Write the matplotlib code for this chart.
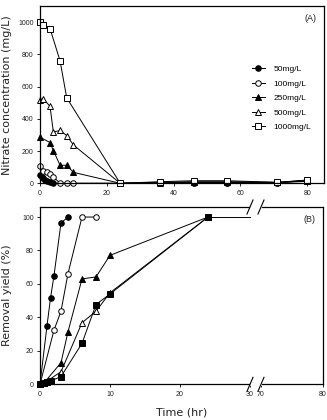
import numpy as np
import matplotlib
matplotlib.use('Agg')
import matplotlib.pyplot as plt

plt.rcParams['font.family'] = ['Liberation Sans', 'DejaVu Sans']

# ---------------- data ----------------
labels = ['50mg/L', '100mg/L', '250mg/L', '500mg/L', '1000mg/L']

# Panel A: nitrate concentration (mg/L) vs time (hr)
a_t_50 = [0, 0.5, 1, 1.5, 2, 3, 4, 24, 36, 46, 56, 71, 80]
a_y_50 = [50, 40, 30, 20, 15, 5, 0, 0, 2, 3, 3, 3, 18]
a_t_100 = [0, 1, 2, 3, 4, 6, 8, 10, 24, 36, 46, 56, 71, 80]
a_y_100 = [108, 76, 68, 58, 40, 0, 0, 0, 0, 3, 4, 4, 4, 20]
a_t_250 = [0, 3, 4, 6, 8, 10, 24, 36, 46, 56, 71, 80]
a_y_250 = [286, 253, 203, 112, 112, 68, 0, 4, 6, 6, 5, 12]
a_t_500 = [0, 1, 3, 4, 6, 8, 10, 24, 36, 46, 56, 71, 80]
a_y_500 = [514, 525, 477, 318, 328, 296, 238, 0, 6, 10, 10, 6, 14]
a_t_1000 = [0, 1, 3, 6, 8, 24, 36, 46, 56, 71, 80]
a_y_1000 = [1000, 985, 960, 760, 530, 0, 10, 16, 16, 6, 20]

# Panel B: removal yield (%) vs time (hr)
b_t_50 = [0, 1, 1.5, 2, 3, 4]
b_y_50 = [0, 35, 51.5, 65, 96.5, 100]
b_t_100 = [0, 2, 3, 4, 6, 8]
b_y_100 = [0, 32.4, 43.7, 66.2, 100, 100]
b_t_250 = [0, 0.5, 3, 4, 6, 8, 10, 24]
b_y_250 = [0, 0.5, 12.9, 31.4, 63, 64.2, 77.1, 100]
b_t_500 = [0, 0.5, 3, 6, 8, 10, 24]
b_y_500 = [0, 0.5, 7.5, 36.8, 43.7, 54.7, 100]
b_t_1000 = [0, 0.5, 1, 1.5, 3, 6, 8, 10, 24]
b_y_1000 = [0, 0.5, 1.5, 2, 4.6, 24.5, 47.7, 54, 100]
b_t_plateau = [24, 30]
b_y_plateau = [100, 100]

a_xticks = [0, 20, 40, 60, 80]
a_yticks = [0, 200, 400, 600, 800, 1000]
b_xticks = [0, 10, 20, 30, 70, 80]
b_yticks = [0, 20, 40, 60, 80, 100]

# ---------------- figure ----------------
W, H = 327, 420
fig = plt.figure(figsize=(W / 100, H / 100), dpi=100)
axA = fig.add_axes([40 / W, 1 - 183.3 / H, 284 / W, 177.3 / H])
axB = fig.add_axes([40 / W, 1 - 384.3 / H, 283 / W, 177.3 / H])

lw = 0.7
ms = 4.0
mew = 0.7
styles = [
    dict(marker='o', mfc='black', mec='black'),
    dict(marker='o', mfc='white', mec='black'),
    dict(marker='^', mfc='black', mec='black'),
    dict(marker='^', mfc='white', mec='black'),
    dict(marker='s', mfc='white', mec='black'),
]

a_series = [(a_t_50, a_y_50), (a_t_100, a_y_100), (a_t_250, a_y_250),
            (a_t_500, a_y_500), (a_t_1000, a_y_1000)]
handles = []
for (t, y), st, lab in zip(a_series, styles, labels):
    h, = axA.plot(t, y, color='black', lw=lw, ms=ms, mew=mew, clip_on=False,
                  label=lab, **st)
    handles.append(h)

axA.set_xlim(0, 85)
axA.set_ylim(0, 1100)
axA.set_xticks(a_xticks)
axA.set_yticks(a_yticks)
axA.set_ylabel('Nitrate concentration (mg/L)', fontsize=8,
               family=['DejaVu Sans'], color='#222222')
axA.yaxis.set_label_coords(-0.098, 0.5)
axA.text(0.975, 0.955, '(A)', transform=axA.transAxes, ha='right', va='top',
         fontsize=6.5, color='#222222')
axA.legend(handles=handles, loc='upper left', bbox_to_anchor=(0.745, 0.665),
           frameon=False, fontsize=6, handlelength=1.6, handletextpad=1.0,
           labelspacing=0.8, borderpad=0, borderaxespad=0)

# broken x-scale for panel B
GAP = 11.0 / 7.0
K = 62.0 / 70.0


def fwd(x):
    x = np.asarray(x, dtype=float)
    return np.where(x <= 30, x,
                    np.where(x >= 70, 30 + GAP + (x - 70) * K,
                             30 + (x - 30) * GAP / 40.0))


def inv(u):
    u = np.asarray(u, dtype=float)
    return np.where(u <= 30, u,
                    np.where(u >= 30 + GAP, 70 + (u - 30 - GAP) / K,
                             30 + (u - 30) * 40.0 / GAP))


axB.set_xscale('function', functions=(fwd, inv))

b_styles = styles[:4] + [dict(marker='s', mfc='black', mec='black')]
b_series = [(b_t_50, b_y_50), (b_t_100, b_y_100), (b_t_250, b_y_250),
            (b_t_500, b_y_500), (b_t_1000, b_y_1000)]
axB.plot(b_t_plateau, b_y_plateau, color='black', lw=lw)
for (t, y), st in zip(b_series, b_styles):
    axB.plot(t, y, color='black', lw=lw, ms=ms, mew=mew, clip_on=False, **st)

axB.set_xlim(0, 80)
axB.set_ylim(0, 106)
axB.set_xticks(b_xticks)
axB.set_xticklabels([str(v) for v in b_xticks])
axB.set_yticks(b_yticks)
axB.set_ylabel('Removal yield (%)', fontsize=8, family=['DejaVu Sans'],
               color='#222222')
axB.yaxis.set_label_coords(-0.098, 0.5)
axB.set_xlabel('Time (hr)', fontsize=8, family=['DejaVu Sans'], color='#222222')
axB.xaxis.set_label_coords(0.5, -0.13)
axB.text(0.975, 0.955, '(B)', transform=axB.transAxes, ha='right', va='top',
         fontsize=6.5, color='#222222')

for ax in (axA, axB):
    for sp in ax.spines.values():
        sp.set_linewidth(0.9)
    ax.tick_params(direction='out', length=2.5, width=0.7, labelsize=5,
                   pad=2, colors='#222222')

# break marks on panel B (decoration)
umax = float(fwd(80))
bx1 = float(fwd(30)) / umax
bx2 = float(fwd(70)) / umax
dx = 3.0 / 283
dy = 7.0 / 177.3
for yb in (0.0, 1.0):
    axB.plot([bx1 + 0.004, bx2 - 0.004], [yb, yb], transform=axB.transAxes,
             color='white', lw=2.0, clip_on=False, zorder=5)
    for bx in (bx1, bx2):
        axB.plot([bx - dx, bx + dx], [yb - dy, yb + dy],
                 transform=axB.transAxes, color='black', lw=0.8,
                 clip_on=False, zorder=6)

fig.savefig('out.png', dpi=100)
